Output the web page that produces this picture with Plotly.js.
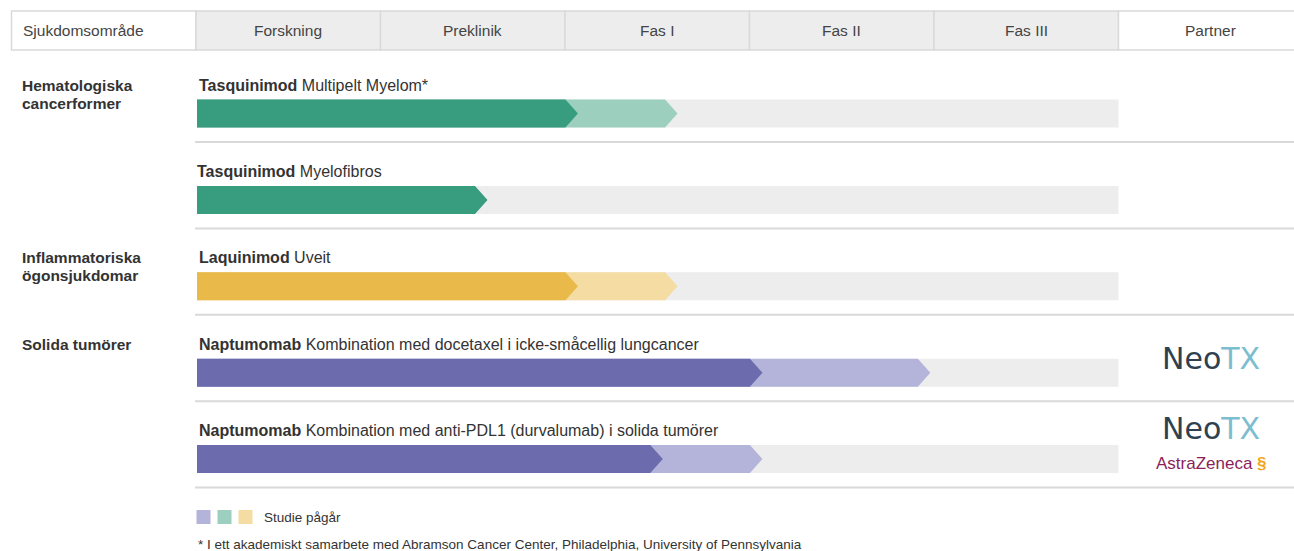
<!DOCTYPE html>
<html>
<head>
<meta charset="utf-8">
<script src="https://cdn.plot.ly/plotly-3.0.1.min.js"></script>
<style>html,body{margin:0;padding:0;background:#fff;}#chart{width:1294px;height:551px;}</style>
</head>
<body>
<div id="chart"></div>
<script>
// ---- data ----
const phases = ['Forskning', 'Preklinik', 'Fas I', 'Fas II', 'Fas III'];
const areaLabels = ['Hematologiska<br>cancerformer', 'Inflammatoriska<br>ögonsjukdomar', 'Solida tumörer'];
const areaRows = [0, 2, 3];
const drugs = ['Tasquinimod', 'Tasquinimod', 'Laquinimod', 'Naptumomab', 'Naptumomab'];
const indications = ['Multipelt Myelom*', 'Myelofibros', 'Uveit',
  'Kombination med docetaxel i icke-småcellig lungcancer',
  'Kombination med anti-PDL1 (durvalumab) i solida tumörer'];
const completed = [2.07, 1.58, 2.07, 3.07, 2.53];   // phase progress reached (arrow tip)
const ongoing = [2.61, null, 2.61, 3.98, 3.07];     // ongoing study (arrow tip)
const families = ['green', 'green', 'yellow', 'purple', 'purple'];
const partners = [[], [], [], ['NeoTX'], ['NeoTX', 'AstraZeneca']];
const legendText = 'Studie pågår';
const footnote = '* I ett akademiskt samarbete med Abramson Cancer Center, Philadelphia, University of Pennsylvania';

// ---- styles ----
const COLORS = {
  green:  {dark: '#389c7f', light: '#9dcfbf'},
  yellow: {dark: '#e9b949', light: '#f5dca3'},
  purple: {dark: '#6c6bad', light: '#b4b3d9'}
};
const GREY = '#ededed';
const LINE = '#d9d9d9';
const FONT = 'Arial, "Liberation Sans", sans-serif';
const TXT = '#333333';

// pixel helpers (layout only)
const PX0 = 196, PXW = 184.5, PY0 = 113.5, PYH = 86.4;
const px2x = p => (p - PX0) / PXW;
const px2y = p => (p - PY0) / PYH;
const BAR_H = 28 / PYH;
const TIP = 12.5 / PXW;
const X0 = px2x(197);
const XEND = 5;

const traces = [];
function arrow(row, v, color) {
  const y0 = row - BAR_H / 2, y1 = row + BAR_H / 2;
  traces.push({
    type: 'scatter', mode: 'lines', fill: 'toself', fillcolor: color,
    line: {width: 0, color: color}, hoverinfo: 'skip', showlegend: false,
    x: [X0, v - TIP, v, v - TIP, X0, X0],
    y: [y0, y0, row, y1, y1, y0]
  });
}
// grey tracks
drugs.forEach((d, i) => {
  const y0 = i - BAR_H / 2, y1 = i + BAR_H / 2;
  traces.push({
    type: 'scatter', mode: 'lines', fill: 'toself', fillcolor: GREY,
    line: {width: 0, color: GREY}, hoverinfo: 'skip', showlegend: false,
    x: [X0, XEND, XEND, X0, X0], y: [y0, y0, y1, y1, y0]
  });
});
drugs.forEach((d, i) => {
  const c = COLORS[families[i]];
  if (ongoing[i] != null) arrow(i, ongoing[i], c.light);
  arrow(i, completed[i], c.dark);
});
// legend squares
const legendFams = ['purple', 'green', 'yellow'];
traces.push({
  type: 'scatter', mode: 'markers', hoverinfo: 'skip', showlegend: false,
  x: legendFams.map((f, k) => px2x(203.5 + 21 * k)),
  y: legendFams.map(() => px2y(517)),
  marker: {symbol: 'square', size: 14, color: legendFams.map(f => COLORS[f].light), line: {width: 0}}
});

// ---- shapes ----
const shapes = [];
const hy0 = px2y(11), hy1 = px2y(50);
shapes.push({type: 'rect', xref: 'x', yref: 'y', x0: -1, x1: 0, y0: hy0, y1: hy1, fillcolor: '#ffffff', line: {color: LINE, width: 1.5}, layer: 'below'});
phases.forEach((p, k) => {
  shapes.push({type: 'rect', xref: 'x', yref: 'y', x0: k, x1: k + 1, y0: hy0, y1: hy1, fillcolor: GREY, line: {color: LINE, width: 1.5}, layer: 'below'});
});
shapes.push({type: 'rect', xref: 'x', yref: 'y', x0: 5, x1: 6.5, y0: hy0, y1: hy1, fillcolor: '#ffffff', line: {color: LINE, width: 1.5}, layer: 'below'});
drugs.forEach((d, i) => {
  shapes.push({type: 'line', xref: 'x', yref: 'y', x0: px2x(195), x1: 6.5, y0: i + 28.5 / PYH, y1: i + 28.5 / PYH, line: {color: LINE, width: 2}});
});

// ---- annotations ----
const ann = [];
const HF = {family: FONT, size: 15.5, color: '#444'};
ann.push({x: px2x(21), y: (hy0 + hy1) / 2, xref: 'x', yref: 'y', text: 'Sjukdomsområde', showarrow: false, xanchor: 'left', yanchor: 'middle', font: HF});
phases.forEach((p, k) => {
  ann.push({x: k + 0.5, y: (hy0 + hy1) / 2, xref: 'x', yref: 'y', text: p, showarrow: false, xanchor: 'center', yanchor: 'middle', font: HF});
});
ann.push({x: 5.5, y: (hy0 + hy1) / 2, xref: 'x', yref: 'y', text: 'Partner', showarrow: false, xanchor: 'center', yanchor: 'middle', font: HF});
areaLabels.forEach((a, k) => {
  a.split('<br>').forEach((line, j) => {
    ann.push({x: px2x(20), y: areaRows[k], yshift: 28.5 - 18 * j, xref: 'x', yref: 'y', text: '<b>' + line + '</b>', showarrow: false, xanchor: 'left', yanchor: 'middle', align: 'left', font: {family: FONT, size: 15.5, color: TXT}});
  });
});
drugs.forEach((d, i) => {
  ann.push({x: px2x(i === 1 ? 195 : 197), y: i, yshift: 28.5, xref: 'x', yref: 'y', text: '<b>' + d + '</b> ' + indications[i], showarrow: false, xanchor: 'left', yanchor: 'middle', font: {family: FONT, size: 16, color: TXT}});
});
partners.forEach((ps, i) => {
  ps.forEach((p, k) => {
    if (p === 'NeoTX') {
      ann.push({x: px2x(1211), y: i, yshift: (ps.length > 1 ? 31 : 14.5), xref: 'x', yref: 'y',
        text: '<span style="color:#2e4150">Neo</span><span style="color:#7dbdd0">TX</span>', showarrow: false,
        xanchor: 'center', yanchor: 'middle', font: {family: '"DejaVu Sans", sans-serif', size: 30, color: '#2e4150'}});
    } else {
      ann.push({x: px2x(1211), y: i, yshift: -4, xref: 'x', yref: 'y',
        text: p + ' <span style="color:#f2a619"><b>§</b></span>', showarrow: false,
        xanchor: 'center', yanchor: 'middle', font: {family: FONT, size: 17, color: '#8a1f5c'}});
    }
  });
});
ann.push({x: px2x(262), y: px2y(517), xref: 'x', yref: 'y', text: legendText, showarrow: false, xanchor: 'left', yanchor: 'middle', font: {family: FONT, size: 13.5, color: TXT}});
ann.push({x: px2x(196), y: px2y(544), xref: 'x', yref: 'y', text: footnote, showarrow: false, xanchor: 'left', yanchor: 'middle', font: {family: FONT, size: 13.5, color: TXT}});

const layout = {
  width: 1294, height: 551,
  margin: {l: 0, r: 0, t: 0, b: 0, pad: 0},
  paper_bgcolor: '#ffffff', plot_bgcolor: '#ffffff',
  xaxis: {range: [px2x(0), px2x(1294)], visible: false, fixedrange: true},
  yaxis: {range: [px2y(551), px2y(0)], visible: false, fixedrange: true},
  shapes: shapes, annotations: ann, showlegend: false, hovermode: false
};
Plotly.newPlot('chart', traces, layout, {displayModeBar: false, staticPlot: true});
</script>
</body>
</html>
